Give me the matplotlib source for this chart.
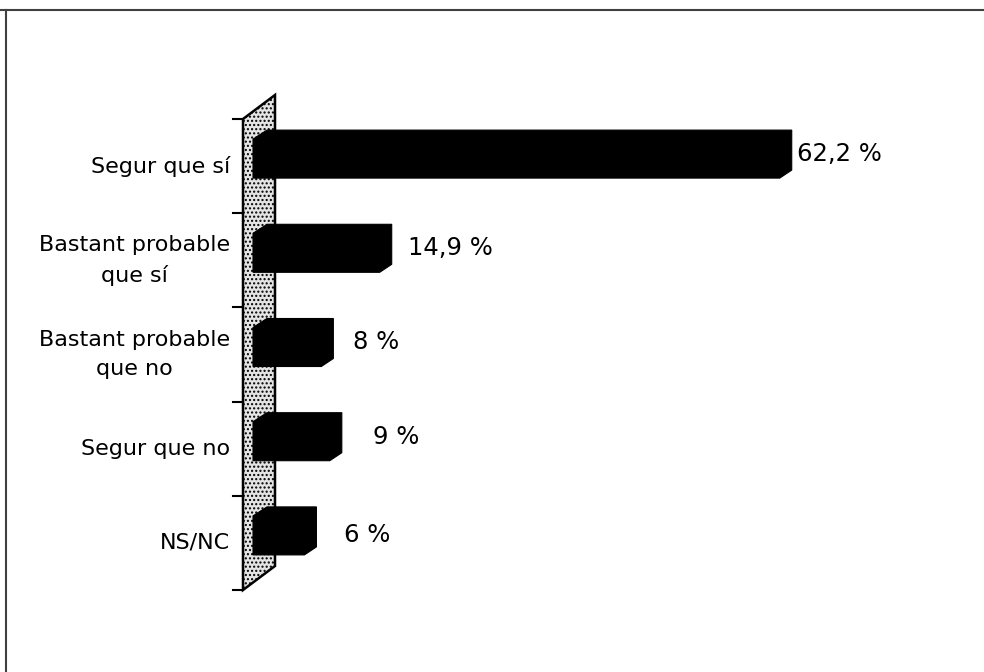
import matplotlib
matplotlib.use("Agg")
import matplotlib.pyplot as plt
from matplotlib.patches import Polygon
from matplotlib.lines import Line2D
from matplotlib.transforms import ScaledTranslation

categories = ["Segur que sí", "Bastant probable\nque sí", "Bastant probable\nque no",
              "Segur que no", "NS/NC"]
values = [62.2, 14.9, 8, 9, 6]
value_labels = ["62,2 %", "14,9 %", "8 %", "9 %", "6 %"]

plt.rcParams['font.family'] = ['DejaVu Sans']
plt.rcParams['hatch.color'] = '#8a8a8a'

W, H, DPI = 984, 672, 100
fig = plt.figure(figsize=(W / DPI, H / DPI), dpi=DPI)
fig.patch.set_facecolor("white")

# frame lines (top and left)
fig.add_artist(Line2D([0, 1], [1 - 9.5 / H, 1 - 9.5 / H], transform=fig.transFigure,
                      color="#404040", lw=1.5))
fig.add_artist(Line2D([5.5 / W, 5.5 / W], [0, 1 - 9.5 / H], transform=fig.transFigure,
                      color="#404040", lw=1.5))

# axes placement: front wall at px 243, y from 119 to 590
left_px, right_px = 243, 900
top_px, bot_px = 119, 590
ax = fig.add_axes([left_px / W, 1 - bot_px / H, (right_px - left_px) / W, (bot_px - top_px) / H])
px_per_unit = 8.457
zero_px = 265.7
xmin = (left_px - zero_px) / px_per_unit
xmax = (right_px - zero_px) / px_per_unit
ax.set_xlim(xmin, xmax)
ax.set_ylim(len(categories) - 0.5, -0.5)
ax.axis("off")

# 3D wall (parallelogram)
depth_x = 32 / px_per_unit
band_px = (bot_px - top_px) / len(categories)
depth_y = 24 / band_px
n = len(categories)
wall = Polygon([(xmin, n - 0.5), (xmin, -0.5), (xmin + depth_x, -0.5 - depth_y),
                (xmin + depth_x, n - 0.5 - depth_y)], closed=True,
               facecolor="#e4e4e4", edgecolor="black", lw=1.8, hatch="....",
               clip_on=False, zorder=1)
ax.add_patch(wall)

# ticks on the front edge
for k in range(n + 1):
    ax.plot([xmin - 10 / px_per_unit, xmin], [k - 0.5, k - 0.5], color="black", lw=1.5,
            clip_on=False, zorder=2)

# bars
shift = ScaledTranslation(0, 12 / DPI, fig.dpi_scale_trans)
trans = ax.transData + shift
half = 24 / band_px
bar_left = -12.7 / px_per_unit
cv = 8 / band_px
ch = 12 / px_per_unit
bl_v = 9 / band_px
bl_h = 14 / px_per_unit
for i, v in enumerate(values):
    top, bot = i - half, i + half
    poly = Polygon([(bar_left, bot), (bar_left, top + bl_v), (bar_left + bl_h, top),
                    (v, top), (v, bot - cv), (v - ch, bot)], closed=True,
                   facecolor="black", edgecolor="black", lw=0.8, transform=trans,
                   zorder=3, clip_on=False)
    ax.add_patch(poly)

# value labels
label_pad_px = [5, 16, 20, 31, 28]
label_dy_px = [0, 0, 0, 0, -4]
for i, (v, lab) in enumerate(zip(values, value_labels)):
    off = ScaledTranslation(label_pad_px[i] / DPI, (12 + label_dy_px[i]) / DPI,
                            fig.dpi_scale_trans)
    ax.text(v, i, lab, transform=ax.transData + off, ha="left", va="center",
            fontsize=17.5, color="black", clip_on=False)

# category labels
for i, c in enumerate(categories):
    ax.text(xmin - 13 / px_per_unit, i, c, ha="right", va="center", multialignment="center",
            fontsize=16, color="black", linespacing=1.6, clip_on=False)

fig.savefig("out.png", dpi=DPI, facecolor="white")
